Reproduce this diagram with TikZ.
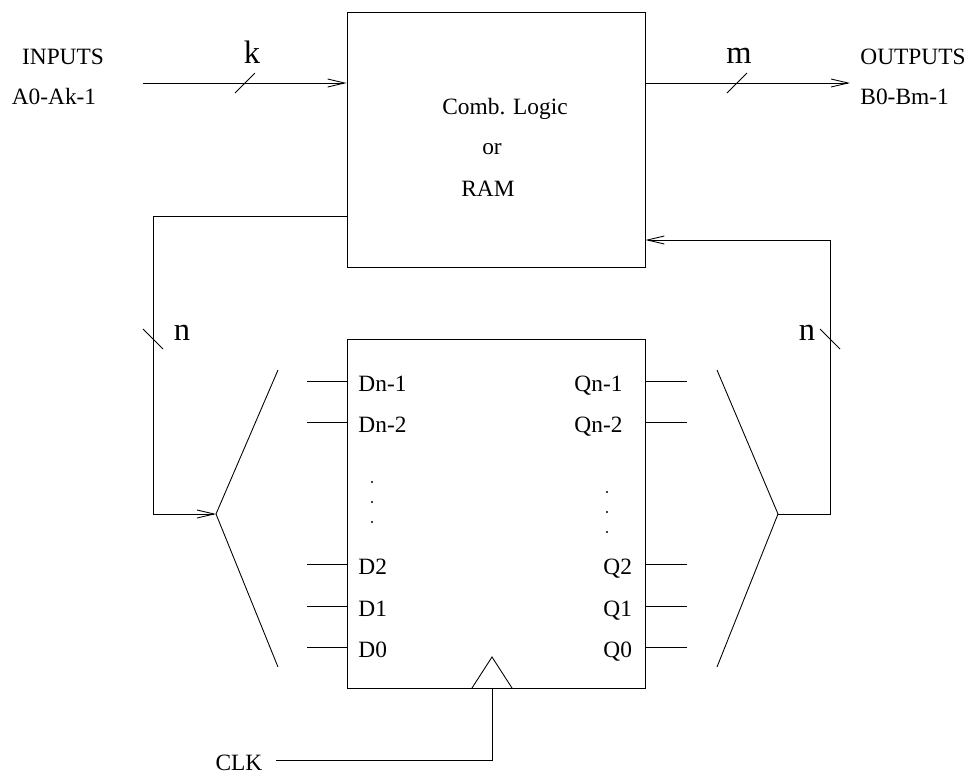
\documentclass[tikz,border=0pt]{standalone}
\usepackage{fontspec}
\setmainfont{Liberation Serif}
\usetikzlibrary{arrows.meta}

\tikzset{
  blk/.style={draw, minimum width=59.6mm, inner sep=0pt},
  lbl/.style={font=\fontsize{13.3}{16}\selectfont, inner sep=0pt},
  big/.style={font=\fontsize{18.5}{22}\selectfont, inner sep=0pt},
}

\begin{document}
\begin{tikzpicture}[x=0.2mm, y=-0.2mm, line width=0.5pt,
    >={Straight Barb[length=3.4mm, width=1.6mm]}]
  \useasboundingbox (0,0) rectangle (975,774);

  % the two blocks
  \node[blk, minimum height=51mm] (logic) at (496,139.5) {};
  \node[blk, minimum height=69.8mm] (reg) at (496,513.5) {};
  \node[lbl, anchor=base] (comb) at (505,114) {Comb. Logic};
  \node[lbl, anchor=base] (or) at (492,154) {or};
  \node[lbl, anchor=base] (ram) at (488,196) {RAM};

  % inputs and outputs
  \coordinate (in0) at (143,83);
  \coordinate (out0) at (850,83);
  \draw[->] (in0) -- (in0 -| logic.west);
  \draw[->] (logic.east |- out0) -- (out0);
  \draw (235,93) -- ++(20,-20);
  \draw (727,93) -- ++(20,-20);
  \node[big, anchor=base] (k) at (252,63) {k};
  \node[big, anchor=base] (m) at (739,63) {m};
  \node[lbl, anchor=base] (inp) at (63,64) {INPUTS};
  \node[lbl, anchor=base] (inr) at (54,104) {A0-Ak-1};
  \node[lbl, anchor=base west] (outp) at (860,64) {OUTPUTS};
  \node[lbl, anchor=base west] (outr) at (860,104) {B0-Bm-1};

  % bundling brackets
  \coordinate (lmux) at (216,514);
  \coordinate (rmux) at (778,514);
  \draw (278,370) -- (lmux) -- (278,667);
  \draw (717,370) -- (rmux) -- (717,667);

  % feedback
  \coordinate (fbL) at (153,216);
  \coordinate (fbR) at (830,240);
  \draw[->] (logic.west |- fbL) -- (fbL) |- (lmux);
  \draw[->] (rmux) -| (fbR) -- (logic.east |- fbR);
  \draw (143,329) -- ++(20,20);
  \draw (820,329) -- ++(20,20);
  \node[big, anchor=base] (nl) at (182,340) {n};
  \node[big, anchor=base] (nr) at (807,340) {n};

  % register pins
  \foreach \y/\t in {381/Dn-1, 422/Dn-2, 564/D2, 606/D1, 647/D0} {
    \draw (307,\y) -- (reg.west |- 0,\y);
    \node[lbl, anchor=base west] at (358,\y+10) {\t};
  }
  \foreach \y/\x/\t in {381/574/Qn-1, 422/574/Qn-2, 564/603/Q2, 606/603/Q1, 647/603/Q0} {
    \draw (reg.east |- 0,\y) -- (687,\y);
    \node[lbl, anchor=base west] at (\x,\y+10) {\t};
  }
  \foreach \y in {482,502,522} \fill (372,\y) circle (1.1);
  \foreach \y in {492,512,532} \fill (607,\y) circle (1.1);

  % clock
  \draw (472,688) -- (492,657) -- (512,688);
  \coordinate (ck) at (492,760);
  \node[lbl, anchor=base, inner xsep=2.6mm] (clk) at (239,770) {CLK};
  \draw (reg.south -| ck) -- (ck) -- (clk.east |- ck);
\end{tikzpicture}
\end{document}
